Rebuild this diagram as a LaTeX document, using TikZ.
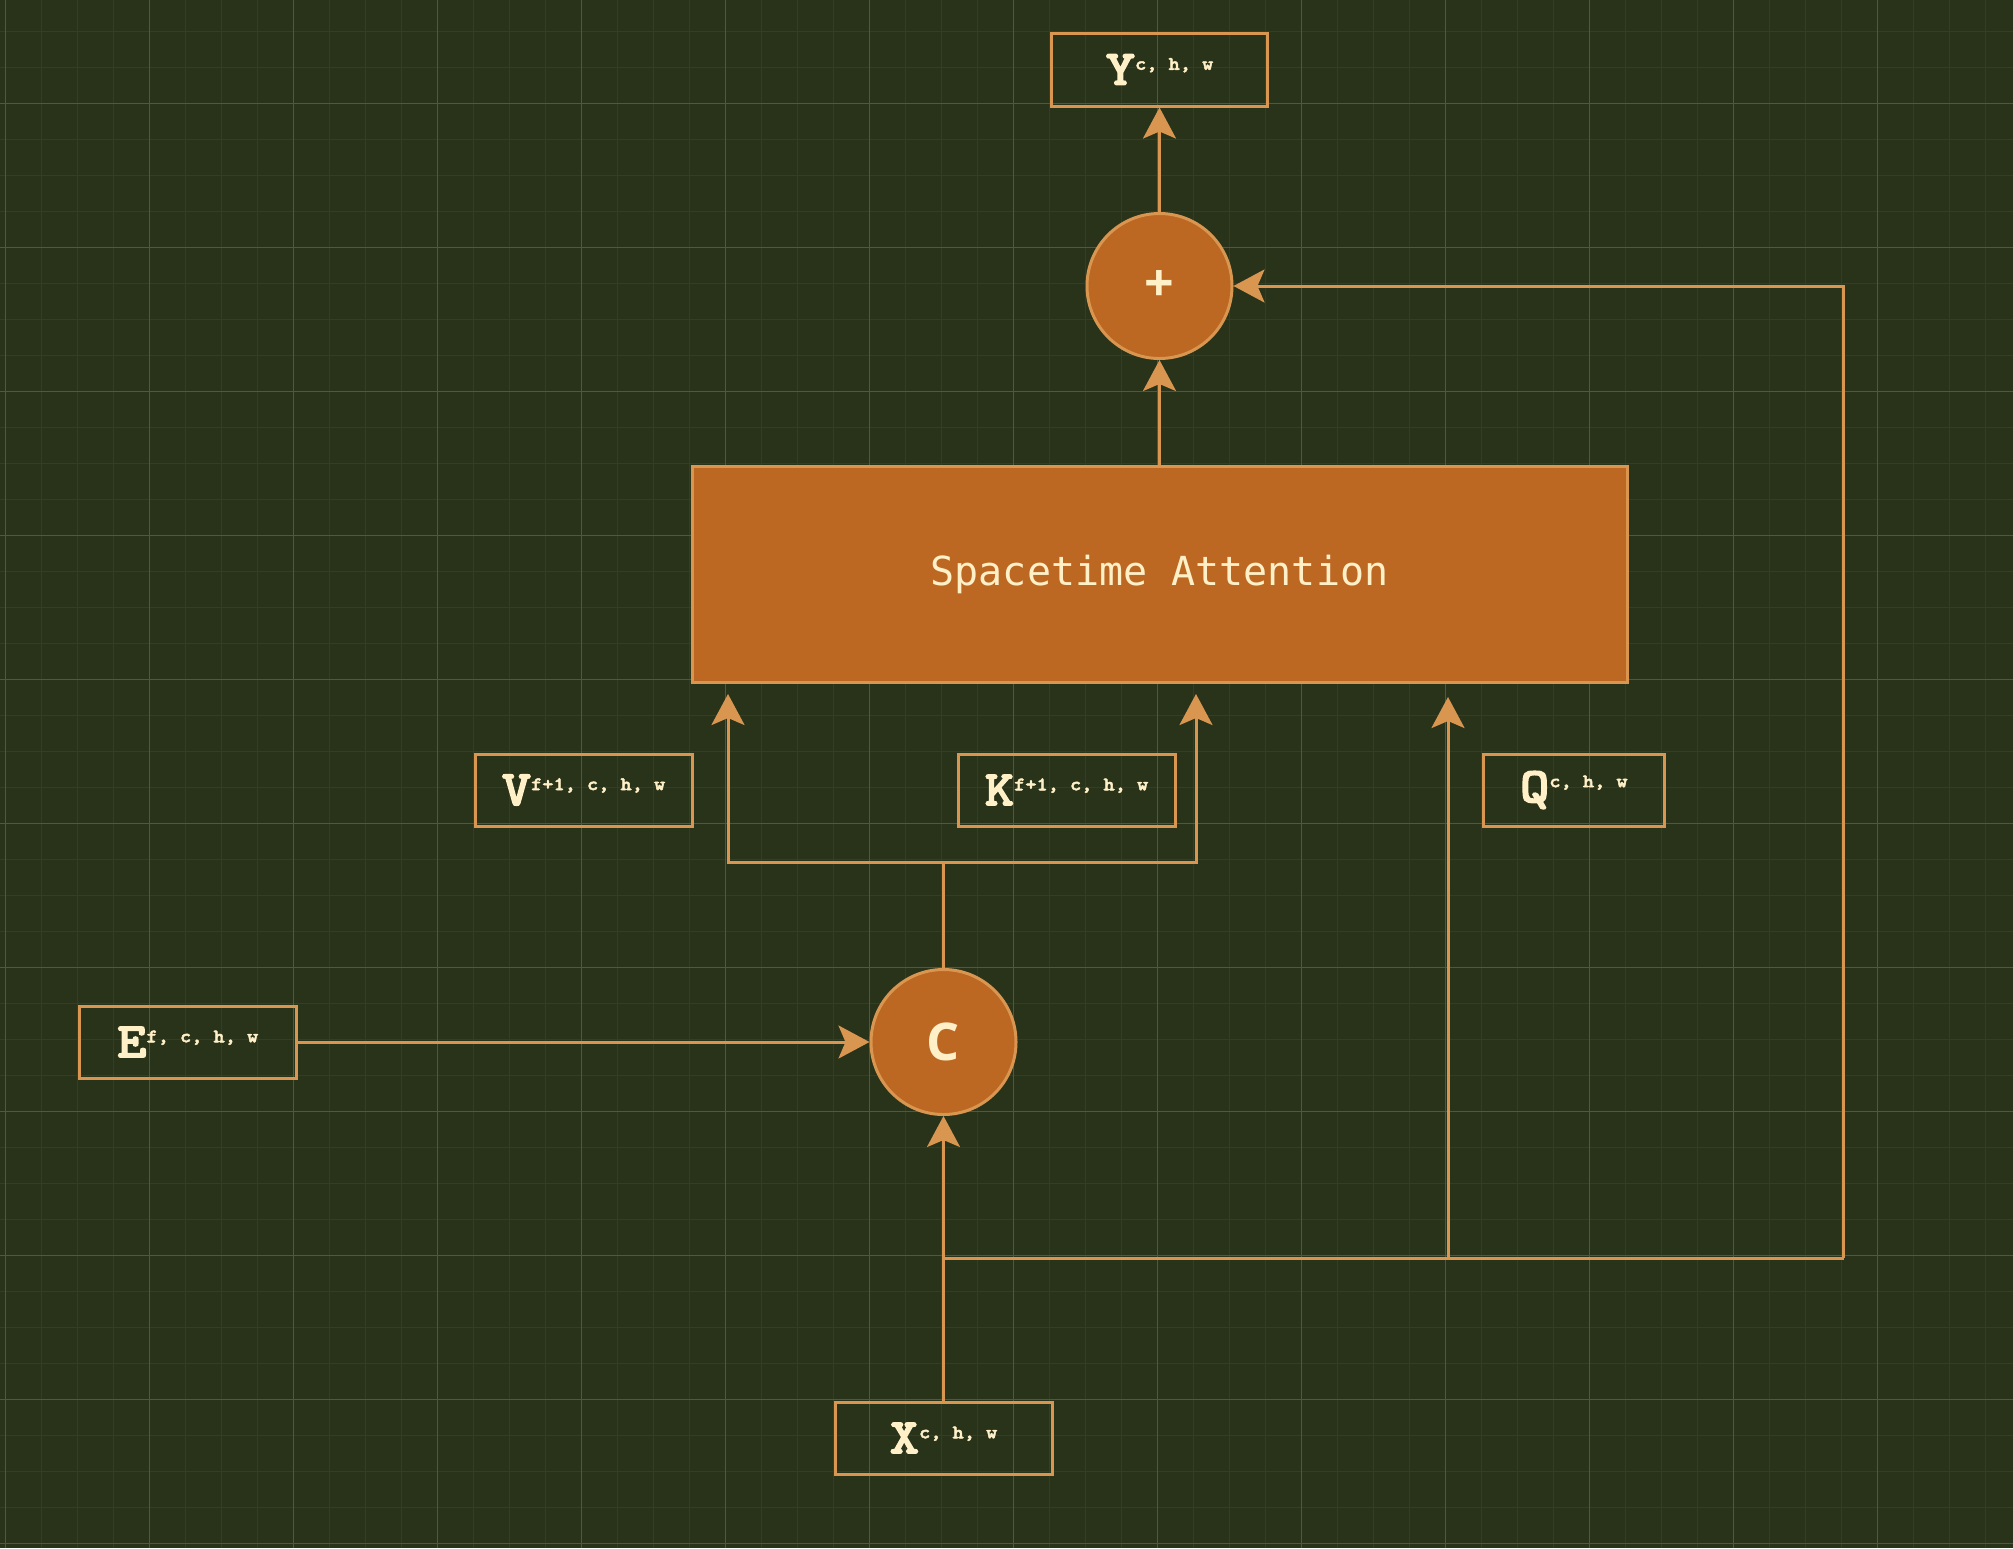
\documentclass[tikz,border=0pt]{standalone}
\usepackage{fontspec}
\usetikzlibrary{arrows.meta}
\newfontfamily\circfont{Open Sans}
\newfontfamily\blockfont{DejaVu Sans Mono}
\newfontfamily\tensorfont{lmmonolt10-bold.otf}[FakeBold=2.5, FakeStretch=1.12]
\definecolor{bg}{HTML}{29331A}
\definecolor{minorgrid}{HTML}{333F20}
\definecolor{majorgrid}{HTML}{4B5F29}
\definecolor{rust}{HTML}{BC6722}
\definecolor{amber}{HTML}{D99650}
\definecolor{cream}{HTML}{FFF0C8}
% tensor label: big letter with its dims raised beside it
\newcommand\tlabel[2]{{\tensorfont\fontsize{50}{50}\selectfont #1}{\tensorfont\fontsize{19}{19}\selectfont\raisebox{15pt}{#2}}}
\begin{document}
\begin{tikzpicture}[x=1pt, y=-1pt,
		tensor/.style={draw=amber, line width=3pt, text=cream, inner sep=0pt, rectangle},
		op/.style={draw=amber, fill=rust, line width=3pt, text=cream, circle, inner sep=0pt, minimum size=145pt, font=\circfont\bfseries\fontsize{52}{52}\selectfont},
		link/.style={draw=amber, line width=3pt},
		arr/.style={-{Stealth[length=31pt, width=33pt, inset=7pt]}}]
				\useasboundingbox[fill=bg] (0,0) rectangle (2013,1548);
				% background grid
				\foreach \i in {0,...,55}
				{
					\draw[minorgrid, line width=1.4pt] ({5.7+36*\i},0) -- ++(0,1548);
				}
				\foreach \i in {0,...,42}
				{
					\draw[minorgrid, line width=1.4pt] (0,{31.7+36*\i}) -- ++(2013,0);
				}
				\foreach \i in {0,...,13}
				{
					\draw[majorgrid, line width=1.4pt] ({5.7+144*\i},0) -- ++(0,1548);
				}
				\foreach \i in {0,...,10}
				{
					\draw[majorgrid, line width=1.4pt] (0,{103.7+144*\i}) -- ++(2013,0);
				}
				% blocks
				\node[tensor, minimum width=216pt, minimum height=73pt] (y) at (1159.5,69.5) {\tlabel{Y}{c, h, w}};
				\node[op] (plus) at (1159.5,286) {+};
				\node[tensor, fill=rust, minimum width=935pt, minimum height=216pt, font=\blockfont\fontsize{40}{40}\selectfont] (attn) at (1159.5,574) {Spacetime Attention};
				\node[tensor, minimum width=217pt, minimum height=72pt] (v) at (583.5,790) {\tlabel{V}{f+1, c, h, w}};
				\node[tensor, minimum width=217pt, minimum height=72pt] (k) at (1066.5,790) {\tlabel{K}{f+1, c, h, w}};
				\node[tensor, minimum width=181pt, minimum height=72pt] (q) at (1573.8,790) {\tlabel{Q}{c, h, w}};
				\node[tensor, minimum width=217pt, minimum height=72pt] (e) at (187.7,1042) {\tlabel{E}{f, c, h, w}};
				\node[op] (c) at (943.5,1042) {C};
				\node[tensor, minimum width=217pt, minimum height=72pt] (x) at (943.5,1438) {\tlabel{X}{c, h, w}};
				% bends and free ends
				\coordinate (xbus) at (943.5,1258);
				\coordinate (qbus) at (1448,1258);
				\coordinate (res) at (1843.5,1258);
				\coordinate (kvbus) at (943.5,862);
				\coordinate (vin) at (728,694);
				\coordinate (kin) at (1196,694);
				\coordinate (qin) at (1448,697);
				% connectors
				\draw[link, arr] (x) -- (c);
				\draw[link, arr] (e) -- (c);
				\draw[link] (xbus) -- (res);
				\draw[link, arr] (res) |- (plus);
				\draw[link, arr] (qbus) -- (qin);
				\draw[link] (c) -- (kvbus);
				\draw[link, arr] (kvbus) -| (vin);
				\draw[link, arr] (kvbus) -| (kin);
				\draw[link, arr] (attn) -- (plus);
				\draw[link, arr] (plus) -- (y);
\end{tikzpicture}
\end{document}
